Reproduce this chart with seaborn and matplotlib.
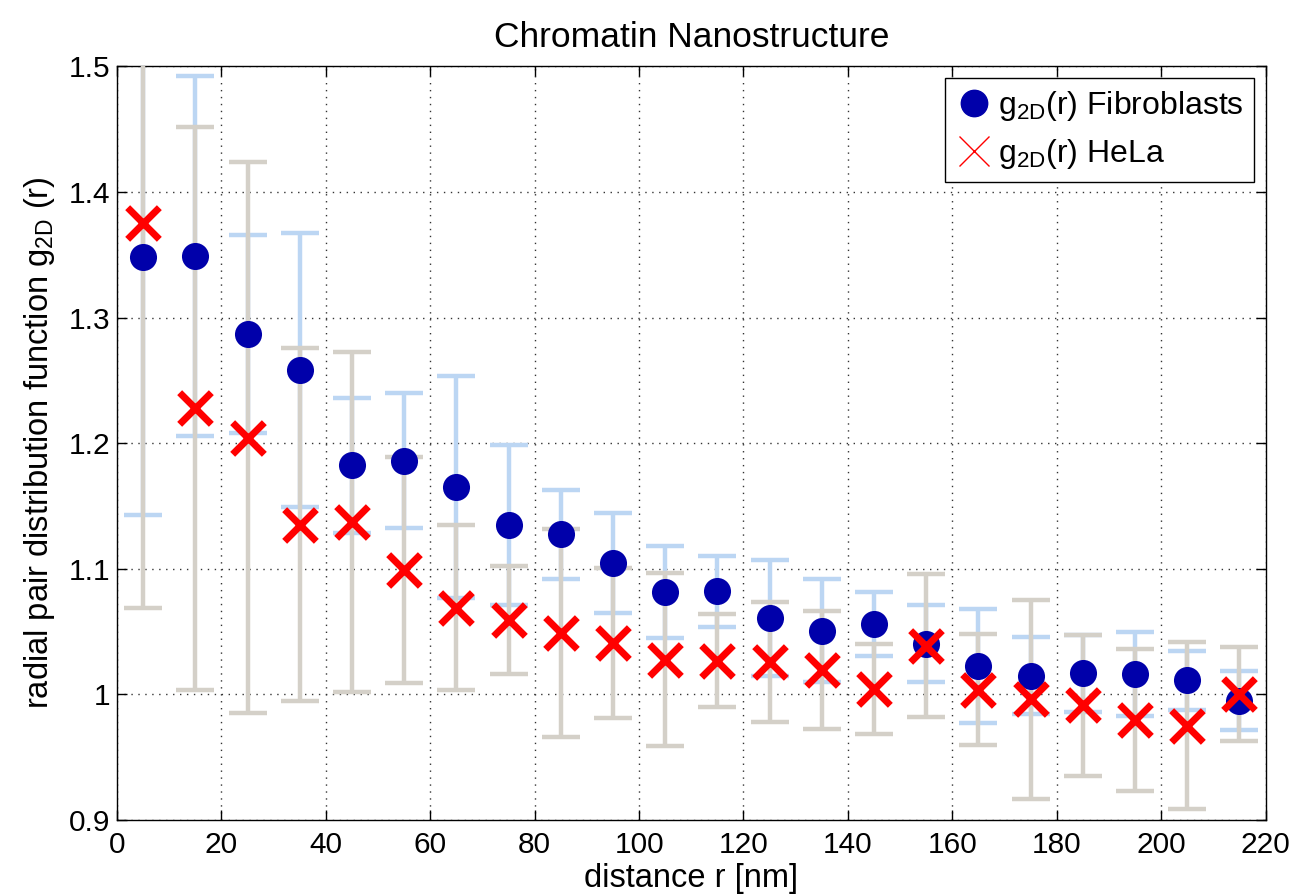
import numpy as np
import pandas as pd
import matplotlib
matplotlib.use("Agg")
import matplotlib.pyplot as plt
from matplotlib.lines import Line2D
import seaborn as sns

# ---- data ----
distance = [5, 15, 25, 35, 45, 55, 65, 75, 85, 95, 105, 115, 125, 135, 145, 155, 165, 175, 185, 195, 205, 215]
fibro_mean = [1.348, 1.349, 1.287, 1.258, 1.1825, 1.186, 1.1648, 1.1349, 1.1274, 1.1044, 1.0813,
              1.0819, 1.0608, 1.0507, 1.0559, 1.0403, 1.0224, 1.0149, 1.0167, 1.016, 1.011, 0.995]
fibro_err = [0.205, 0.1434, 0.0786, 0.109, 0.0538, 0.0536, 0.0884, 0.0638, 0.0354, 0.040, 0.0365,
             0.0283, 0.0465, 0.0409, 0.0254, 0.0307, 0.0455, 0.0308, 0.0306, 0.0334, 0.0235, 0.0237]
hela_mean = [1.375, 1.2277, 1.2043, 1.1351, 1.137, 1.0988, 1.069, 1.059, 1.0487, 1.0408, 1.0276,
             1.0269, 1.0259, 1.0195, 1.0041, 1.0387, 1.0036, 0.9959, 0.9911, 0.9793, 0.9749, 1.0003]
hela_err = [0.3065, 0.2243, 0.2194, 0.1404, 0.1353, 0.0902, 0.0656, 0.0429, 0.0827, 0.0599, 0.0688,
            0.0373, 0.0479, 0.0469, 0.0359, 0.0569, 0.0442, 0.0793, 0.0561, 0.0565, 0.0665, 0.0375]
x_ticks = [0, 20, 40, 60, 80, 100, 120, 140, 160, 180, 200, 220]
y_ticks = [0.9, 1.0, 1.1, 1.2, 1.3, 1.4, 1.5]
y_tick_labels = ["0.9", "1", "1.1", "1.2", "1.3", "1.4", "1.5"]

title = "Chromatin Nanostructure"
xlabel = "distance r [nm]"
ylabel = r"radial pair distribution function g$_{\mathrm{2D}}$ (r)"
label_fibro = r"g$_{\mathrm{2D}}$(r) Fibroblasts"
label_hela = r"g$_{\mathrm{2D}}$(r) HeLa"

df_f = pd.DataFrame({"r": distance, "g": fibro_mean, "e": fibro_err})
df_h = pd.DataFrame({"r": distance, "g": hela_mean, "e": hela_err})

# ---- style ----
sns.set_style("ticks")
plt.rcParams["font.family"] = ["Liberation Sans", "DejaVu Sans"]
plt.rcParams["mathtext.fontset"] = "custom"
plt.rcParams["mathtext.rm"] = "Liberation Sans"
plt.rcParams["mathtext.it"] = "Liberation Sans:italic"
plt.rcParams["text.color"] = "black"
plt.rcParams["axes.labelcolor"] = "black"
plt.rcParams["xtick.color"] = "black"
plt.rcParams["ytick.color"] = "black"

blue_err = "#bcd6f3"
gray_err = "#d4d0c8"
blue_pt = "#0000aa"
red_pt = "#ff0000"

fig, ax = plt.subplots(figsize=(13, 8.94), dpi=100)
fig.subplots_adjust(left=0.09, right=0.9735, top=0.9258, bottom=0.0829)

ax.errorbar(df_f["r"], df_f["g"], yerr=df_f["e"], fmt="none", ecolor=blue_err,
            elinewidth=3.2, capsize=14, capthick=3.2, zorder=2)
ax.errorbar(df_h["r"], df_h["g"], yerr=df_h["e"], fmt="none", ecolor=gray_err,
            elinewidth=3.2, capsize=14, capthick=3.2, zorder=3)

sns.scatterplot(data=df_f, x="r", y="g", ax=ax, color=blue_pt, marker="o", s=380,
                edgecolor=blue_pt, linewidth=0, zorder=4, legend=False)
sns.scatterplot(data=df_h, x="r", y="g", ax=ax, color=red_pt, marker="x", s=520,
                linewidth=5, zorder=5, legend=False)

ax.set_xlim(0, 220)
ax.set_ylim(0.9, 1.5)
ax.set_xticks(x_ticks)
ax.set_xticklabels([str(t) for t in x_ticks])
ax.set_yticks(y_ticks)
ax.set_yticklabels(y_tick_labels)
ax.tick_params(direction="in", length=7, width=1, top=True, right=True,
               labelsize=21.5, colors="black")
ax.tick_params(axis="x", pad=8)
ax.tick_params(axis="y", pad=5)
ax.grid(True, linestyle=(0, (1, 4)), color="#333333", linewidth=1)
for sp in ax.spines.values():
    sp.set_visible(True)
    sp.set_color("black")
    sp.set_linewidth(1)

ax.set_title(title, fontsize=25.5, pad=14, color="black")
ax.set_xlabel(xlabel, fontsize=23.5, labelpad=3, color="black")
ax.set_ylabel(ylabel, fontsize=23.5, labelpad=8, color="black")

handles = [
    Line2D([], [], linestyle="none", marker="o", markersize=19, color=blue_pt),
    Line2D([], [], linestyle="none", marker="x", markersize=21, markeredgewidth=1, color=red_pt),
]
leg = ax.legend(handles, [label_fibro, label_hela], loc="upper right", fontsize=23,
                frameon=True, fancybox=False, edgecolor="black", framealpha=1,
                borderaxespad=0.35, handletextpad=0.2, labelspacing=0.45, handlelength=1.1,
                borderpad=0.35)
leg.get_frame().set_linewidth(1)
for t in leg.get_texts():
    t.set_color("black")

fig.savefig("out.png", dpi=100)
